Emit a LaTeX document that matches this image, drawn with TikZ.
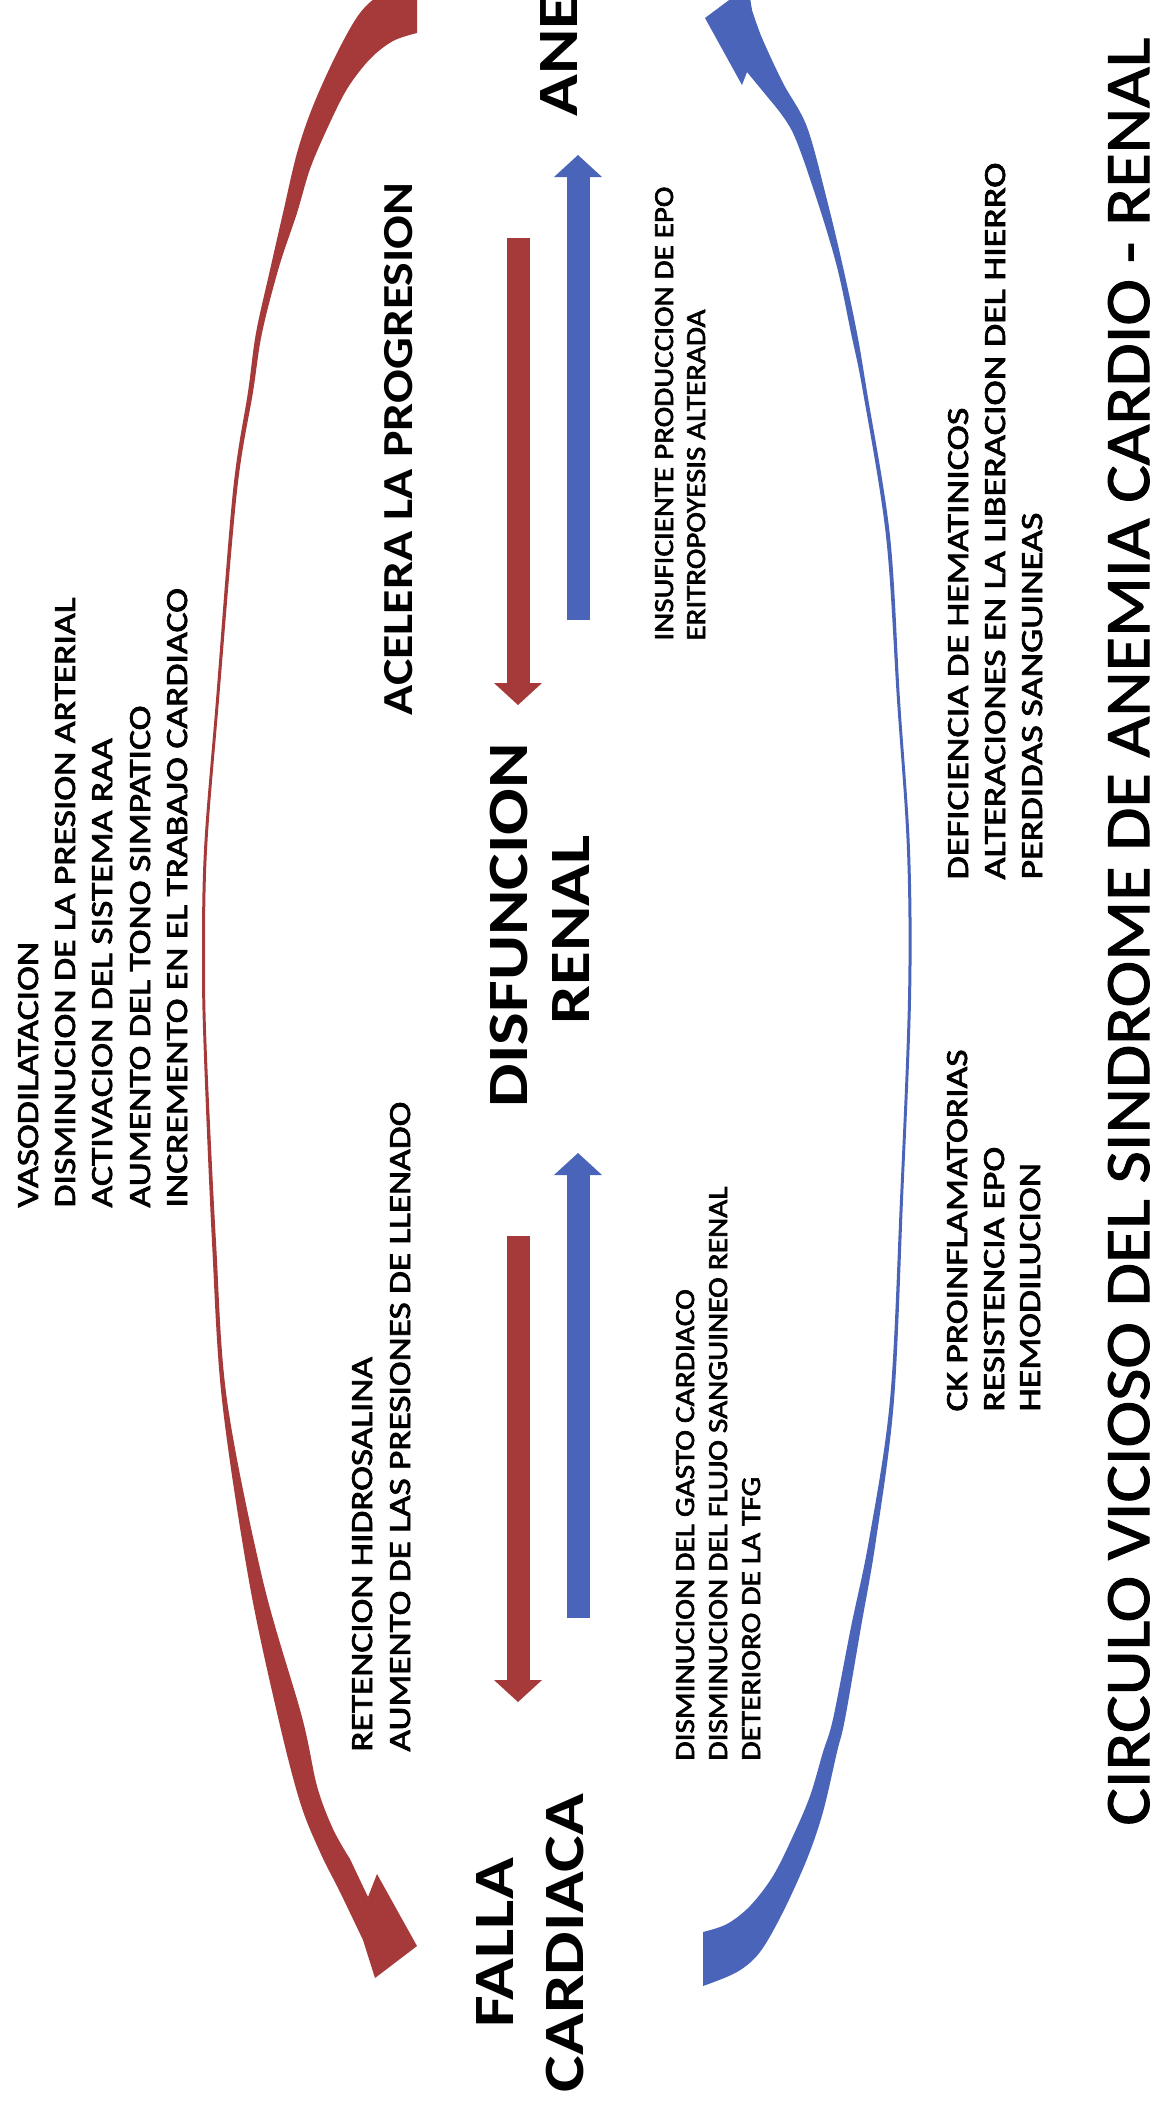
\documentclass[tikz,border=0pt]{standalone}
\usepackage{fontspec}
\setmainfont{Carlito}
\newfontfamily\carlsemi[FakeBold=1.6]{Carlito}
\newfontfamily\carlsmall[FakeBold=2.2]{Carlito}
\usetikzlibrary{arrows.meta}

\definecolor{arcred}{RGB}{166,58,58}
\definecolor{arcblue}{RGB}{74,100,186}

% text sizes (all labels run bottom to top)
\newcommand\titlefont{\carlsemi\fontsize{31.6}{36}\selectfont}
\newcommand\bigfont{\bfseries\fontsize{28.5}{32}\selectfont}
\newcommand\acelfont{\bfseries\fontsize{21.4}{24}\selectfont}
\newcommand\smallfont{\carlsmall\fontsize{15.4}{18}\selectfont}
\newcommand\midfont{\carlsmall\fontsize{13.8}{16}\selectfont}

% \fitscale{\macro}{font}{reference line}{length in px}: stretch factor along the line
\newlength\natw
\newcommand\fitscale[4]{\settowidth\natw{#2#3}\pgfmathsetmacro#1{#4*0.5/\natw}\global\let#1#1}

\AtBeginDocument{%
\fitscale{\stitle}{\titlefont}{CIRCULO VICIOSO DEL SINDROME DE ANEMIA CARDIO - RENAL}{1788}%
\fitscale{\sbig}{\bigfont}{DISFUNCION}{364}%
\fitscale{\sacel}{\acelfont}{ACELERA LA PROGRESION}{533}%
\fitscale{\svaso}{\smallfont}{DISMINUCION DE LA PRESION ARTERIAL}{610}%
\fitscale{\sret}{\smallfont}{AUMENTO DE LAS PRESIONES DE LLENADO}{650}%
\fitscale{\sdef}{\smallfont}{ALTERACIONES EN LA LIBERACION DEL HIERRO}{717}%
\fitscale{\sck}{\smallfont}{CK PROINFLAMATORIAS}{362}%
\fitscale{\sins}{\midfont}{INSUFICIENTE PRODUCCION DE EPO}{454}%
\fitscale{\sgas}{\midfont}{DISMINUCION DEL FLUJO SANGUINEO RENAL}{574}%
}

\tikzset{
  lbl/.style={rotate=90, inner sep=0pt, anchor=base west, text=black},
  bigl/.style={rotate=90, inner sep=0pt, anchor=base, font=\bigfont, xscale=\sbig, text=black},
  redbar/.style={draw=arcred, line width=11.5pt, -{Triangle[width=24pt,length=11pt,line width=0pt]}},
  bluebar/.style={draw=arcblue, line width=11.5pt, -{Triangle[width=24pt,length=11pt,line width=0pt]}},
}

\begin{document}
\begin{tikzpicture}[x=0.5pt, y=-0.5pt]
\useasboundingbox (0,0) rectangle (1159,2111);
\clip (0,0) rectangle (1159,2111);
\fill[white] (0,0) rectangle (1159,2111);

% red circular arrow: from ANEMIA (left side) down to FALLA CARDIACA
\fill[arcred] plot[smooth, tension=0.55] coordinates {(417,-21) (383,-7) (360,13) (337,53) (313,106) (297,153) (283,213) (270,270) (256,333) (248,392) (233,491) (216,700) (204,850) (202,965) (204,1057) (212,1242) (222,1400) (249,1581) (278,1717) (300,1802) (320,1852) (340,1892) (363,1940)}
  -- (375,1978) -- (417,1946) -- (377,1874) -- (368,1897)
  -- plot[smooth, tension=0.55] coordinates {(350,1859) (333,1829) (317,1786) (302,1717) (263,1581) (227,1400) (216,1242) (207,1057) (205,965) (207,850) (219,700) (237,491) (253,392) (262,333) (279,267) (297,213) (310,169) (327,129) (347,89) (370,59) (393,41) (417,33)}
  -- cycle;

% blue circular arrow: from FALLA CARDIACA (right side) up to ANEMIA
\fill[arcblue] plot[smooth, tension=0.55] coordinates {(703,1986) (737,1972) (760,1952) (783,1912) (807,1859) (823,1812) (837,1752) (845,1719) (861,1627) (876,1540) (894,1400) (903,1200) (911,1000) (910,850) (900,700) (890,536) (867,392) (857,333) (843,267) (827,200) (807,127) (783,83) (762,38) (752,10)}
  -- (748,-14) -- (705,18) -- (742,85) -- (747,72)
  -- plot[smooth, tension=0.55] coordinates {(770,100) (793,133) (817,200) (837,267) (851,333) (863,392) (886,536) (897,700) (907,850) (908,1000) (900,1200) (890,1400) (869,1540) (851,1627) (833,1719) (823,1752) (810,1796) (793,1836) (773,1876) (750,1906) (727,1924) (703,1932)}
  -- cycle;

% straight arrows between the three stages
\coordinate (ra1) at (518,238);  \coordinate (ra2) at (518,705);
\coordinate (ba1) at (578,620);  \coordinate (ba2) at (578,155);
\coordinate (rb1) at (518,1236); \coordinate (rb2) at (518,1702);
\coordinate (bb1) at (578,1618); \coordinate (bb2) at (578,1153);
\draw[redbar] (ra1) -- (ra2);
\draw[bluebar] (ba1) -- (ba2);
\draw[redbar] (rb1) -- (rb2);
\draw[bluebar] (bb1) -- (bb2);

% stages
\node[bigl] (falla) at (513,1943) {FALLA};
\node[bigl] (cardiaca) at (583,1943) {CARDIACA};
\node[bigl] (disf) at (527,925) {DISFUNCION};
\node[bigl] (renal) at (589,930) {RENAL};
\node[lbl, font=\bigfont, xscale=\sbig] (anemia) at (577,117) {ANEMIA};

\node[lbl, font=\acelfont, xscale=\sacel] (acel) at (412,716) {ACELERA LA PROGRESION};

% mechanisms along the red arc
\node[lbl, font=\smallfont, xscale=\svaso] (v1) at (38,1208) {VASODILATACION};
\node[lbl, font=\smallfont, xscale=\svaso] (v2) at (75,1208) {DISMINUCION DE LA PRESION ARTERIAL};
\node[lbl, font=\smallfont, xscale=\svaso] (v3) at (112,1208) {ACTIVACION DEL SISTEMA RAA};
\node[lbl, font=\smallfont, xscale=\svaso] (v4) at (150,1208) {AUMENTO DEL TONO SIMPATICO};
\node[lbl, font=\smallfont, xscale=\svaso] (v5) at (187,1208) {INCREMENTO EN EL TRABAJO CARDIACO};

\node[lbl, font=\smallfont, xscale=\sret] (r1) at (372,1752) {RETENCION HIDROSALINA};
\node[lbl, font=\smallfont, xscale=\sret] (r2) at (410,1752) {AUMENTO DE LAS PRESIONES DE LLENADO};

% mechanisms along the blue arrows
\node[lbl, font=\midfont, xscale=\sins] (i1) at (673,641) {INSUFICIENTE PRODUCCION DE EPO};
\node[lbl, font=\midfont, xscale=\sins] (i2) at (705,641) {ERITROPOYESIS ALTERADA};

\node[lbl, font=\midfont, xscale=\sgas] (g1) at (694,1761) {DISMINUCION DEL GASTO CARDIACO};
\node[lbl, font=\midfont, xscale=\sgas] (g2) at (727,1761) {DISMINUCION DEL FLUJO SANGUINEO RENAL};
\node[lbl, font=\midfont, xscale=\sgas] (g3) at (760,1761) {DETERIORO DE LA TFG};

% mechanisms along the blue arc
\node[lbl, font=\smallfont, xscale=\sdef] (d1) at (968,880) {DEFICIENCIA DE HEMATINICOS};
\node[lbl, font=\smallfont, xscale=\sdef] (d2) at (1005,880) {ALTERACIONES EN LA LIBERACION DEL HIERRO};
\node[lbl, font=\smallfont, xscale=\sdef] (d3) at (1042,880) {PERDIDAS SANGUINEAS};

\node[lbl, font=\smallfont, xscale=\sck] (c1) at (967,1412) {CK PROINFLAMATORIAS};
\node[lbl, font=\smallfont, xscale=\sck] (c2) at (1004,1412) {RESISTENCIA EPO};
\node[lbl, font=\smallfont, xscale=\sck] (c3) at (1040,1412) {HEMODILUCION};

% title
\node[lbl, font=\titlefont, xscale=\stitle] (title) at (1149,1826) {CIRCULO VICIOSO DEL SINDROME DE ANEMIA CARDIO - RENAL};
\end{tikzpicture}
\end{document}
